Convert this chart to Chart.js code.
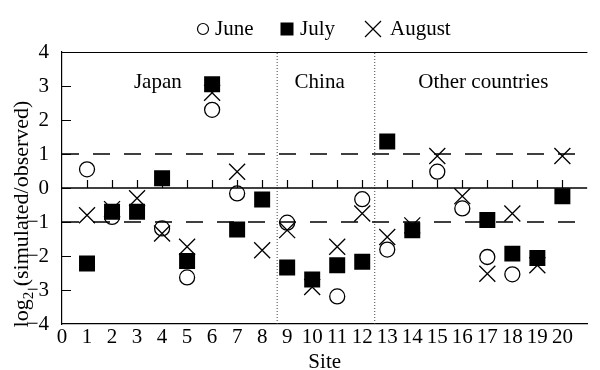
<!DOCTYPE html>
<html>
<head>
<meta charset="utf-8">
<script src="https://cdn.jsdelivr.net/npm/chart.js@4"></script>
<style>
  html, body { margin: 0; padding: 0; background: #fff; }
  #wrap { width: 600px; height: 370px; }
</style>
</head>
<body>
<div id="wrap"><canvas id="chart" width="600" height="370"></canvas></div>
<script>
// 各站點的 log2(模擬/觀測) 值，null = 圖中看不到
const sites = [1, 2, 3, 4, 5, 6, 7, 8, 9, 10, 11, 12, 13, 14, 15, 16, 17, 18, 19, 20];
const june   = [0.55, -0.85, null, -1.19, -2.63, 2.30, -0.16, null, -1.02, null, -3.19, -0.33, -1.81, null, 0.48, -0.60, -2.03, -2.54, null, null];
const july   = [-2.22, -0.70, -0.70, 0.29, -2.15, 3.05, -1.22, -0.34, -2.34, -2.69, -2.27, -2.17, 1.37, -1.24, null, null, -0.94, -1.93, -2.06, -0.24];
const august = [-0.80, -0.62, -0.30, -1.34, -1.73, 2.80, 0.48, -1.83, -1.24, -2.91, -1.73, -0.75, -1.44, -1.10, 0.94, -0.24, -2.52, -0.75, -2.27, 0.94];

const xTicks = [0, 1, 2, 3, 4, 5, 6, 7, 8, 9, 10, 11, 12, 13, 14, 15, 16, 17, 18, 19, 20];
const yTicks = [-4, -3, -2, -1, 0, 1, 2, 3, 4];
const dashedLevels = [1, -1];
const regionBounds = [8.6, 12.5];
const regionNames = ['Japan', 'China', 'Other countries'];

const FONT = '"Liberation Serif", "Times New Roman", serif';

function toPoints(values) {
    const pts = [];
    values.forEach((v, i) => {
        if (v !== null) pts.push({ x: sites[i], y: v });
    });
    return pts;
}

function hLine(y) {
    return [{ x: 0, y: y }, { x: 21, y: y }];
}

function vLine(x) {
    return [{ x: x, y: -4 }, { x: x, y: 4 }];
}

const refSets = [];
dashedLevels.forEach(lv => {
    refSets.push({
        type: 'line', data: hLine(lv), borderColor: '#000', borderWidth: 1.5,
        borderDash: [17, 14], pointRadius: 0, showLine: true, order: 5
    });
});
refSets.push({
    type: 'line', data: hLine(0), borderColor: '#000', borderWidth: 1.5,
    pointRadius: 0, showLine: true, order: 5
});
regionBounds.forEach(b => {
    refSets.push({
        type: 'line', data: vLine(b), borderColor: '#444', borderWidth: 1,
        borderDash: [1, 2], pointRadius: 0, showLine: true, order: 5
    });
});

// 圖框、刻度、區域文字、圖例、y 軸標題
const decor = {
    id: 'decor',
    afterDraw(chart) {
        const ctx = chart.ctx;
        const xs = chart.scales.x, ys = chart.scales.y;
        const a = chart.chartArea;
        ctx.save();
        ctx.strokeStyle = '#000';
        ctx.lineWidth = 1.2;
        // 上框線
        ctx.beginPath();
        ctx.moveTo(a.left, a.top + 0.5);
        ctx.lineTo(a.right, a.top + 0.5);
        ctx.stroke();
        // y 軸向內刻度
        ctx.beginPath();
        yTicks.forEach(t => {
            if (t === 4 || t === -4) return;
            const py = Math.round(ys.getPixelForValue(t)) + 0.5;
            ctx.moveTo(a.left, py);
            ctx.lineTo(a.left + 9, py);
        });
        // 零線上的 x 刻度
        const y0 = ys.getPixelForValue(0);
        sites.forEach(s => {
            const px = Math.round(xs.getPixelForValue(s)) + 0.5;
            ctx.moveTo(px, y0);
            ctx.lineTo(px, y0 - 8);
        });
        ctx.stroke();

        // 區域名稱
        ctx.fillStyle = '#000';
        ctx.font = '21px ' + FONT;
        ctx.textAlign = 'center';
        ctx.textBaseline = 'middle';
        const regionX = [3.83, 10.3, 16.84];
        regionNames.forEach((n, i) => {
            ctx.fillText(n, xs.getPixelForValue(regionX[i]), ys.getPixelForValue(3.1));
        });

        // 圖例
        const ly = 29;
        ctx.textAlign = 'left';
        ctx.lineWidth = 1.2;
        ctx.beginPath();
        ctx.arc(203, ly, 5.5, 0, Math.PI * 2);
        ctx.stroke();
        ctx.fillText('June', 215, ly);
        ctx.fillRect(287 - 6.5, ly - 6.5, 13, 13);
        ctx.fillText('July', 300, ly);
        ctx.beginPath();
        ctx.moveTo(373 - 8, ly - 8); ctx.lineTo(373 + 8, ly + 8);
        ctx.moveTo(373 + 8, ly - 8); ctx.lineTo(373 - 8, ly + 8);
        ctx.stroke();
        ctx.fillText('August', 390, ly);

        // y 軸標題（含下標）
        ctx.translate(21, 214);
        ctx.rotate(-Math.PI / 2);
        const big = '22px ' + FONT, small = '15px ' + FONT;
        ctx.font = big;
        const w1 = ctx.measureText('log').width;
        const w3 = ctx.measureText(' (simulated/observed)').width;
        ctx.font = small;
        const w2 = ctx.measureText('2').width;
        let x = -(w1 + w2 + w3) / 2;
        ctx.textBaseline = 'alphabetic';
        ctx.font = big;
        ctx.fillText('log', x, 7);
        x += w1;
        ctx.font = small;
        ctx.fillText('2', x, 12);
        x += w2;
        ctx.font = big;
        ctx.fillText(' (simulated/observed)', x, 7);
        ctx.restore();
    }
};

new Chart(document.getElementById('chart'), {
    type: 'scatter',
    data: {
        datasets: [
            {
                label: 'June', data: toPoints(june), pointStyle: 'circle',
                pointRadius: 7.5, pointBorderWidth: 1.3,
                borderColor: '#000', backgroundColor: 'rgba(0,0,0,0)', order: 2
            },
            {
                label: 'July', data: toPoints(july), pointStyle: 'rect',
                pointRadius: 11.3, pointBorderWidth: 0,
                borderColor: '#000', backgroundColor: '#000', order: 0
            },
            {
                label: 'August', data: toPoints(august), pointStyle: 'crossRot',
                pointRadius: 11.3, pointBorderWidth: 1.3,
                borderColor: '#000', backgroundColor: '#000', order: 1
            }
        ].concat(refSets)
    },
    options: {
        responsive: false,
        animation: false,
        events: [],
        layout: { padding: { top: 52, right: 0, left: 0, bottom: 0 } },
        plugins: {
            legend: { display: false },
            tooltip: { enabled: false }
        },
        scales: {
            x: {
                type: 'linear', min: 0, max: 21,
                afterFit(scale) { scale.height = 46; },
                afterBuildTicks(scale) { scale.ticks = xTicks.map(v => ({ value: v })); },
                grid: { display: false },
                border: { display: true, color: '#000', width: 1.2 },
                ticks: {
                    color: '#000', padding: -5, maxRotation: 0, autoSkip: false,
                    font: { family: FONT, size: 21, lineHeight: 1 }
                },
                title: {
                    display: true, text: 'Site', color: '#000',
                    padding: { top: 0, bottom: -3 },
                    font: { family: FONT, size: 21, lineHeight: 1 }
                }
            },
            y: {
                type: 'linear', min: -4, max: 4,
                afterFit(scale) { scale.width = 62; },
                afterBuildTicks(scale) { scale.ticks = yTicks.map(v => ({ value: v })); },
                grid: { display: false },
                border: { display: true, color: '#000', width: 1.2 },
                ticks: {
                    color: '#000', padding: 5,
                    font: { family: FONT, size: 21 },
                    callback: v => (v < 0 ? '\u2212' + Math.abs(v) : String(v))
                }
            }
        }
    },
    plugins: [decor]
});
</script>
</body>
</html>
